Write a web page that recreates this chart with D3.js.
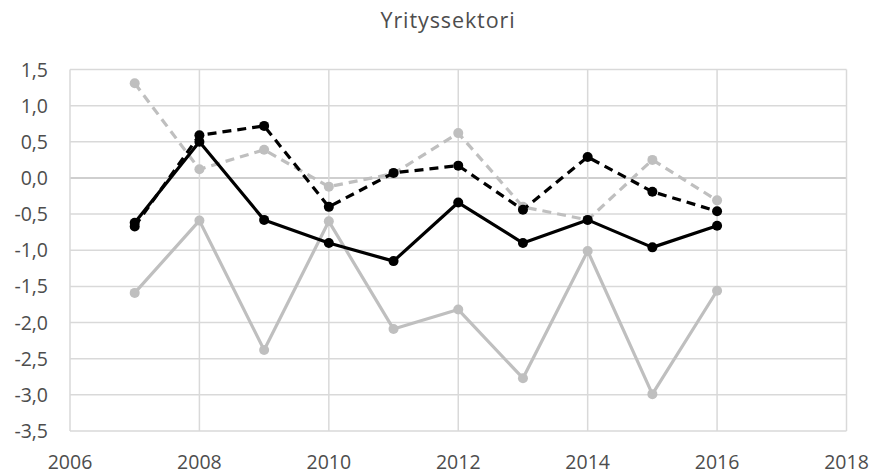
<!DOCTYPE html>
<html><head><meta charset="utf-8">
<script src="https://cdn.jsdelivr.net/npm/d3@7"></script>
<style>body{margin:0;background:#fff}svg{display:block}</style>
</head><body>
<svg id="c" width="875" height="474"></svg>
<script>
const title = "Yrityssektori";
const years = [2007,2008,2009,2010,2011,2012,2013,2014,2015,2016];
const blackDashed = [-0.67,0.59,0.72,-0.40,0.07,0.17,-0.44,0.29,-0.19,-0.46];
const blackSolid  = [-0.62,0.50,-0.58,-0.90,-1.15,-0.34,-0.90,-0.58,-0.96,-0.66];
const grayDashed  = [1.31,0.12,0.39,-0.12,0.06,0.62,-0.40,-0.58,0.25,-0.31];
const graySolid   = [-1.59,-0.59,-2.38,-0.60,-2.09,-1.82,-2.77,-1.01,-2.99,-1.56];
const xTicks = [2006,2008,2010,2012,2014,2016,2018];
const yTicks = [1.5,1.0,0.5,0.0,-0.5,-1.0,-1.5,-2.0,-2.5,-3.0,-3.5];

const svg = d3.select("#c");
const x = d3.scaleLinear().domain([2006,2018]).range([70,846.5]);
const y = d3.scaleLinear().domain([-3.5,1.5]).range([431,69.5]);
const font = "'Open Sans', 'Liberation Sans', sans-serif";
const fmt = v => d3.format(".1f")(v).replace(".", ",").replace("−","-");

// grid
svg.append("g").selectAll("line").data(yTicks).join("line")
  .attr("x1", x(2006)).attr("x2", x(2018))
  .attr("y1", d => y(d)).attr("y2", d => y(d))
  .attr("stroke", d => d === 0 ? "#bfbfbf" : "#d9d9d9").attr("stroke-width", 1.5);
svg.append("g").selectAll("line").data(xTicks).join("line")
  .attr("x1", d => x(d)).attr("x2", d => x(d))
  .attr("y1", y(1.5)).attr("y2", y(-3.5))
  .attr("stroke", "#d9d9d9").attr("stroke-width", 1.5);

// axes labels
svg.append("g").selectAll("text").data(yTicks).join("text")
  .attr("x", 48).attr("y", d => y(d)).attr("dy", "0.36em")
  .attr("text-anchor", "end").attr("font-family", font).attr("font-size", 19.5)
  .attr("fill", "#4d4d4d").text(fmt);
svg.append("g").selectAll("text").data(xTicks).join("text")
  .attr("x", d => x(d)).attr("y", 469)
  .attr("text-anchor", "middle").attr("font-family", font).attr("font-size", 19.5)
  .attr("fill", "#4d4d4d").text(d => d);

svg.append("text").attr("x", 448).attr("y", 28).attr("text-anchor", "middle")
  .attr("font-family", font).attr("font-size", 21.5).attr("letter-spacing", "0.9px")
  .attr("fill", "#4d4d4d").text(title);

const series = [
  {v: graySolid, color: "#bfbfbf", dash: null},
  {v: grayDashed, color: "#bfbfbf", dash: "9,6"},
  {v: blackSolid, color: "#000", dash: null},
  {v: blackDashed, color: "#000", dash: "9,6"}
];
const line = d3.line().x((d,i) => x(years[i])).y(d => y(d));
series.forEach(s => {
  const g = svg.append("g");
  g.append("path").attr("d", line(s.v)).attr("fill", "none")
    .attr("stroke", s.color).attr("stroke-width", 3.2)
    .attr("stroke-dasharray", s.dash).attr("stroke-linejoin", "round");
  g.selectAll("circle").data(s.v).join("circle")
    .attr("cx", (d,i) => x(years[i])).attr("cy", d => y(d)).attr("r", 5)
    .attr("fill", s.color);
});
</script>
</body></html>
